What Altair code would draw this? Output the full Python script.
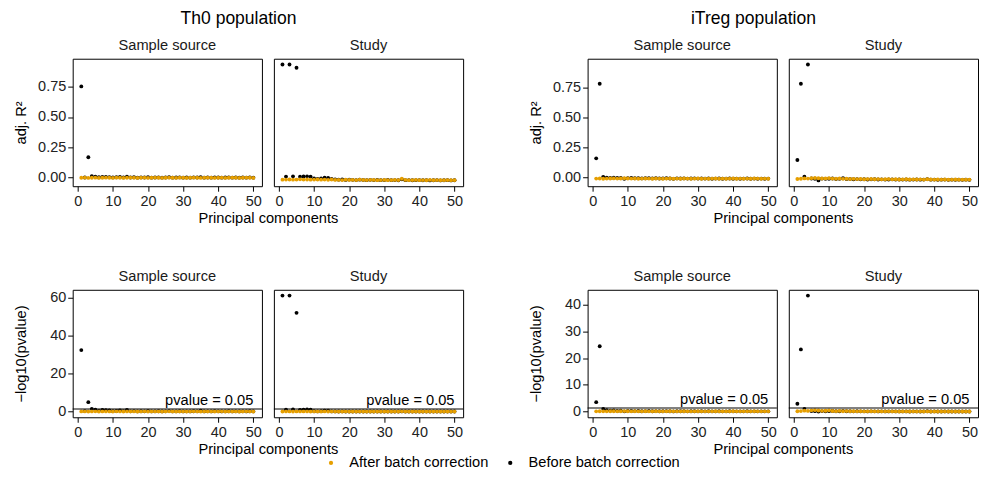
import altair as alt
import pandas as pd
import numpy as np

# ---------------- data ----------------
PCS = list(range(1, 51))
CONDITIONS = ["After batch correction", "Before batch correction"]
COLORS = ["#E69F00", "#000000"]
P_THRESHOLD = 0.05
X_TICKS = [0, 10, 20, 30, 40, 50]

# Th0 population - adjusted R^2
th0_ss_r2_before = [0.755, -0.004, 0.165, 0.008, 0.003, -0.002, 0.002, 0.001, 0.000, -0.003,
                    -0.002, 0.001, -0.003, 0.003, -0.004, -0.002, -0.005, -0.003, -0.004, -0.002,
                    -0.005, -0.004, -0.003, -0.005, -0.004, -0.002, -0.005, -0.004, -0.003, -0.005,
                    -0.004, -0.005, -0.003, -0.004, -0.001, -0.005, -0.004, -0.005, -0.003, -0.004,
                    -0.005, -0.004, -0.003, -0.005, -0.004, -0.005, -0.004, -0.005, -0.003, -0.005]
th0_ss_r2_after = [-0.006, -0.005, -0.007, -0.006, -0.005, -0.007, -0.006, -0.005, -0.006, -0.007,
                   -0.005, -0.006, -0.007, -0.006, -0.005, -0.006, -0.007, -0.006, -0.005, -0.007,
                   -0.006, -0.005, -0.006, -0.007, -0.006, -0.005, -0.006, -0.007, -0.005, -0.006,
                   -0.007, -0.006, -0.005, -0.006, -0.007, -0.006, -0.005, -0.006, -0.007, -0.006,
                   -0.005, -0.007, -0.006, -0.005, -0.006, -0.007, -0.006, -0.005, -0.006, -0.007]
th0_st_r2_before = [0.937, 0.004, 0.937, 0.006, 0.910, 0.003, 0.005, 0.006, 0.004, -0.012,
                    -0.015, -0.011, -0.006, -0.007, -0.016, -0.019, -0.022, -0.020, -0.024, -0.021,
                    -0.023, -0.025, -0.022, -0.024, -0.026, -0.023, -0.025, -0.024, -0.026, -0.025,
                    -0.023, -0.026, -0.025, -0.027, -0.019, -0.026, -0.025, -0.027, -0.026, -0.025,
                    -0.027, -0.026, -0.028, -0.027, -0.026, -0.028, -0.027, -0.026, -0.028, -0.027]
th0_st_r2_after = [-0.022, -0.021, -0.020, -0.022, -0.021, -0.019, -0.021, -0.020, -0.022, -0.021,
                   -0.020, -0.022, -0.021, -0.023, -0.020, -0.024, -0.023, -0.025, -0.022, -0.024,
                   -0.023, -0.025, -0.021, -0.024, -0.025, -0.023, -0.024, -0.026, -0.025, -0.024,
                   -0.026, -0.025, -0.024, -0.025, -0.014, -0.024, -0.026, -0.025, -0.024, -0.026,
                   -0.025, -0.027, -0.024, -0.026, -0.025, -0.027, -0.026, -0.025, -0.027, -0.026]

# iTreg population - adjusted R^2
itreg_ss_r2_before = [0.158, 0.780, 0.004, -0.003, -0.005, -0.004, -0.006, -0.005, -0.012, -0.007,
                      -0.006, -0.008, -0.007, -0.009, -0.008, -0.007, -0.009, -0.008, -0.010, -0.009,
                      -0.008, -0.010, -0.013, -0.009, -0.010, -0.009, -0.011, -0.010, -0.009, -0.011,
                      -0.010, -0.011, -0.010, -0.012, -0.011, -0.010, -0.012, -0.011, -0.010, -0.012,
                      -0.011, -0.012, -0.011, -0.010, -0.012, -0.011, -0.012, -0.011, -0.012, -0.011]
itreg_ss_r2_after = [-0.011, -0.010, -0.012, -0.011, -0.010, -0.009, -0.011, -0.010, -0.008, -0.010,
                     -0.011, -0.010, -0.012, -0.011, -0.010, -0.011, -0.012, -0.010, -0.011, -0.012,
                     -0.011, -0.010, -0.012, -0.011, -0.012, -0.010, -0.011, -0.012, -0.011, -0.010,
                     -0.012, -0.011, -0.012, -0.011, -0.010, -0.012, -0.011, -0.012, -0.011, -0.010,
                     -0.012, -0.011, -0.012, -0.011, -0.012, -0.010, -0.011, -0.012, -0.011, -0.012]
itreg_st_r2_before = [0.144, 0.780, 0.005, 0.940, -0.010, -0.012, -0.026, -0.011, -0.013, -0.012,
                      -0.010, -0.014, -0.013, -0.008, -0.015, -0.014, -0.016, -0.015, -0.017, -0.016,
                      -0.018, -0.017, -0.016, -0.018, -0.017, -0.019, -0.018, -0.017, -0.019, -0.018,
                      -0.019, -0.018, -0.020, -0.019, -0.018, -0.020, -0.019, -0.015, -0.020, -0.019,
                      -0.021, -0.020, -0.019, -0.021, -0.020, -0.021, -0.020, -0.021, -0.020, -0.021]
itreg_st_r2_after = [-0.014, -0.012, -0.009, -0.011, -0.007, -0.006, -0.008, -0.010, -0.009, -0.007,
                     -0.011, -0.012, -0.010, -0.013, -0.012, -0.014, -0.013, -0.015, -0.014, -0.016,
                     -0.015, -0.014, -0.016, -0.015, -0.017, -0.016, -0.015, -0.017, -0.016, -0.018,
                     -0.017, -0.016, -0.018, -0.017, -0.018, -0.017, -0.019, -0.016, -0.018, -0.019,
                     -0.018, -0.019, -0.018, -0.020, -0.019, -0.018, -0.020, -0.019, -0.020, -0.019]

# Th0 population - -log10(pvalue)
th0_ss_p_before = [32.3, 0.21, 4.9, 1.4, 0.92, 0.35, 0.78, 0.66, 0.52, 0.18,
                   0.24, 0.61, 0.15, 0.83, 0.09, 0.22, 0.05, 0.14, 0.08, 0.25,
                   0.04, 0.07, 0.13, 0.03, 0.06, 0.21, 0.04, 0.08, 0.12, 0.03,
                   0.07, 0.04, 0.14, 0.06, 0.38, 0.03, 0.07, 0.04, 0.15, 0.06,
                   0.03, 0.08, 0.13, 0.04, 0.06, 0.03, 0.07, 0.04, 0.12, 0.03]
th0_ss_p_after = [0.02, 0.05, 0.01, 0.03, 0.06, 0.01, 0.02, 0.05, 0.03, 0.01,
                  0.06, 0.02, 0.01, 0.03, 0.05, 0.02, 0.01, 0.03, 0.06, 0.01,
                  0.02, 0.05, 0.03, 0.01, 0.02, 0.06, 0.03, 0.01, 0.05, 0.02,
                  0.01, 0.03, 0.06, 0.02, 0.01, 0.03, 0.05, 0.02, 0.01, 0.03,
                  0.06, 0.01, 0.02, 0.05, 0.03, 0.01, 0.02, 0.06, 0.03, 0.01]
th0_st_p_before = [61.0, 0.95, 61.0, 1.1, 51.9, 0.85, 0.98, 1.05, 0.92, 0.12,
                   0.05, 0.18, 0.45, 0.41, 0.04, 0.02, 0.01, 0.02, 0.00, 0.01,
                   0.01, 0.00, 0.01, 0.00, 0.00, 0.01, 0.00, 0.00, 0.00, 0.00,
                   0.01, 0.00, 0.00, 0.00, 0.03, 0.00, 0.00, 0.00, 0.00, 0.00,
                   0.00, 0.00, 0.00, 0.00, 0.00, 0.00, 0.00, 0.00, 0.00, 0.00]
th0_st_p_after = [0.01, 0.02, 0.03, 0.01, 0.02, 0.04, 0.02, 0.03, 0.01, 0.02,
                  0.03, 0.01, 0.02, 0.01, 0.03, 0.00, 0.01, 0.00, 0.02, 0.00,
                  0.01, 0.00, 0.02, 0.00, 0.00, 0.01, 0.00, 0.00, 0.00, 0.00,
                  0.00, 0.00, 0.00, 0.00, 0.08, 0.00, 0.00, 0.00, 0.00, 0.00,
                  0.00, 0.00, 0.00, 0.00, 0.00, 0.00, 0.00, 0.00, 0.00, 0.00]

# iTreg population - -log10(pvalue)
itreg_ss_p_before = [3.5, 24.5, 0.95, 0.45, 0.31, 0.36, 0.22, 0.28, 0.05, 0.18,
                     0.21, 0.14, 0.17, 0.10, 0.13, 0.16, 0.09, 0.12, 0.07, 0.09,
                     0.12, 0.07, 0.03, 0.09, 0.07, 0.10, 0.06, 0.07, 0.09, 0.05,
                     0.07, 0.05, 0.07, 0.04, 0.05, 0.07, 0.04, 0.05, 0.07, 0.04,
                     0.05, 0.04, 0.05, 0.07, 0.04, 0.05, 0.04, 0.05, 0.04, 0.05]
itreg_ss_p_after = [0.05, 0.07, 0.04, 0.05, 0.07, 0.10, 0.06, 0.07, 0.14, 0.08,
                    0.05, 0.07, 0.04, 0.05, 0.07, 0.05, 0.04, 0.07, 0.05, 0.04,
                    0.05, 0.07, 0.04, 0.05, 0.04, 0.07, 0.05, 0.04, 0.05, 0.07,
                    0.04, 0.05, 0.04, 0.05, 0.07, 0.04, 0.05, 0.04, 0.05, 0.07,
                    0.04, 0.05, 0.04, 0.05, 0.04, 0.07, 0.05, 0.04, 0.05, 0.04]
itreg_st_p_before = [2.9, 23.3, 0.92, 43.5, 0.16, 0.12, 0.01, 0.14, 0.10, 0.12,
                     0.16, 0.08, 0.10, 0.25, 0.07, 0.08, 0.05, 0.07, 0.04, 0.05,
                     0.03, 0.04, 0.05, 0.03, 0.04, 0.02, 0.03, 0.04, 0.02, 0.03,
                     0.02, 0.03, 0.01, 0.02, 0.03, 0.01, 0.02, 0.07, 0.01, 0.02,
                     0.01, 0.01, 0.02, 0.01, 0.01, 0.01, 0.01, 0.01, 0.01, 0.01]
itreg_st_p_after = [0.08, 0.14, 0.30, 0.20, 0.42, 0.48, 0.36, 0.24, 0.29, 0.40,
                    0.18, 0.13, 0.22, 0.10, 0.14, 0.07, 0.10, 0.05, 0.07, 0.03,
                    0.05, 0.07, 0.03, 0.05, 0.02, 0.03, 0.05, 0.02, 0.03, 0.01,
                    0.02, 0.03, 0.01, 0.02, 0.01, 0.02, 0.00, 0.03, 0.01, 0.00,
                    0.01, 0.00, 0.01, 0.00, 0.00, 0.01, 0.00, 0.00, 0.00, 0.00]

# ---------------- styling ----------------
FONT = "Liberation Sans"
PANEL_W, PANEL_H = 190, 128
X_DOMAIN = [1 - 0.05 * 49, 50 + 0.05 * 49]


def ydomain(*series):
    vals = np.concatenate([np.asarray(s, dtype=float) for s in series])
    lo, hi = vals.min(), vals.max()
    r = hi - lo
    return [float(lo - 0.05 * r), float(hi + 0.05 * r)]


def frame(before, after):
    return pd.DataFrame({
        "pc": PCS + PCS,
        "value": list(before) + list(after),
        "condition": [CONDITIONS[1]] * len(PCS) + [CONDITIONS[0]] * len(PCS),
    })


COLOR = alt.Color(
    "condition:N",
    scale=alt.Scale(domain=CONDITIONS, range=COLORS),
    legend=alt.Legend(
        orient="none", direction="horizontal", title=None,
        legendX=252, legendY=398,
        labelFont=FONT, labelFontSize=14.7, labelColor="black",
        symbolType="circle", symbolSize=18, symbolStrokeWidth=0,
        labelOffset=11, columnPadding=14,
    ),
)


def panel(before, after, ydom, yticks, yfmt, ytitle, first, title, pvalue):
    df = frame(before, after)
    yscale = alt.Scale(domain=ydom, nice=False, zero=False)
    xscale = alt.Scale(domain=X_DOMAIN, nice=False, zero=False)
    if first:
        yaxis = alt.Axis(values=yticks, format=yfmt, title=ytitle,
                         minExtent=36, maxExtent=36, titlePadding=8)
        xaxis = alt.Axis(values=X_TICKS, title="Principal components",
                         titleX=PANEL_W + 6, titleAlign="center")
    else:
        yaxis = None
        xaxis = alt.Axis(values=X_TICKS, title=None)
    pts = alt.Chart(df).mark_circle(size=15, opacity=1).encode(
        x=alt.X("pc:Q", scale=xscale, axis=xaxis),
        y=alt.Y("value:Q", scale=yscale, axis=yaxis),
        color=COLOR,
    )
    layers = [pts]
    if pvalue:
        thr = pd.DataFrame({"pc": [50], "value": [-np.log10(P_THRESHOLD)],
                            "label": ["pvalue = 0.05"]})
        rule = alt.Chart(thr).mark_rule(color="black", strokeWidth=1).encode(
            y=alt.Y("value:Q", scale=yscale, axis=yaxis))
        txt = alt.Chart(thr).mark_text(align="right", baseline="bottom", dy=-1,
                                       font=FONT, fontSize=14.7, color="black").encode(
            x=alt.X("pc:Q", scale=xscale, axis=xaxis),
            y=alt.Y("value:Q", scale=yscale, axis=yaxis),
            text="label:N")
        layers += [rule, txt]
    return alt.layer(*layers).properties(
        width=PANEL_W, height=PANEL_H,
        title=alt.TitleParams(title, font=FONT, fontSize=14.7, fontWeight="normal",
                              color="#1a1a1a", offset=6),
    )


def group(ss_b, ss_a, st_b, st_a, yticks, yfmt, ytitle, pvalue, gtitle=None):
    ydom = ydomain(ss_b, ss_a, st_b, st_a)
    a = panel(ss_b, ss_a, ydom, yticks, yfmt, ytitle, True, "Sample source", pvalue)
    b = panel(st_b, st_a, ydom, yticks, yfmt, ytitle, False, "Study", pvalue)
    kw = dict(spacing=12, bounds="flush")
    if gtitle:
        kw["title"] = alt.TitleParams(gtitle, font=FONT, fontSize=17.6, fontWeight="normal",
                                      color="black", anchor="middle", offset=10)
    return alt.hconcat(a, b, **kw)


R2_TITLE = "adj. R²"
P_TITLE = "−log10(pvalue)"

top = alt.hconcat(
    group(th0_ss_r2_before, th0_ss_r2_after, th0_st_r2_before, th0_st_r2_after,
          [0, 0.25, 0.5, 0.75], ".2f", R2_TITLE, False, "Th0 population"),
    group(itreg_ss_r2_before, itreg_ss_r2_after, itreg_st_r2_before, itreg_st_r2_after,
          [0, 0.25, 0.5, 0.75], ".2f", R2_TITLE, False, "iTreg population"),
    spacing=64,
)
bottom = alt.hconcat(
    group(th0_ss_p_before, th0_ss_p_after, th0_st_p_before, th0_st_p_after,
          [0, 20, 40, 60], "d", P_TITLE, True),
    group(itreg_ss_p_before, itreg_ss_p_after, itreg_st_p_before, itreg_st_p_after,
          [0, 10, 20, 30, 40], "d", P_TITLE, True),
    spacing=64,
)

chart = alt.vconcat(top, bottom, spacing=42).properties(
    padding={"left": 13, "top": 9, "right": 2, "bottom": 5},
).configure_view(
    stroke="black", strokeWidth=1,
).configure_axis(
    domain=False, grid=False, tickColor="black", tickWidth=1, tickSize=5,
    labelFont=FONT, labelFontSize=14.5, labelColor="#222222", labelPadding=2,
    titleFont=FONT, titleFontSize=14.7, titleFontWeight="normal", titleColor="black",
    titlePadding=2,
).configure_axisX(
    labelPadding=3, titlePadding=3,
).configure_text(font=FONT)

chart.save("out.html", embed_options={"renderer": "svg", "actions": False})
